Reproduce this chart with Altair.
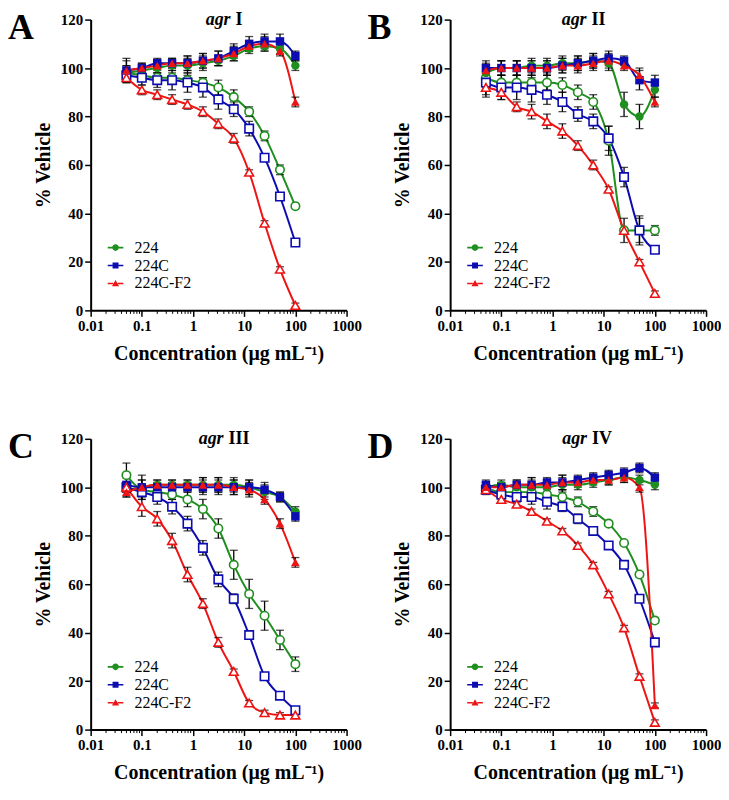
import altair as alt
import pandas as pd

# ---------------- data ----------------
conc = [0.05, 0.1, 0.2, 0.39, 0.78, 1.56, 3.125, 6.25, 12.5, 25, 50, 100]
series_names = ["224", "224C", "224C-F2"]
colors = ["#1f8f1f", "#0c0cb0", "#ee1414"]
shapes = ["circle", "square", "triangle-up"]

# Panel A (agr I)
A_224_f = [98, 99, 100, 101, 101, 102, 103, 105, 108, 109, 108, 101]
A_224_f_err = [3, 2, 2, 2, 3, 3, 2, 2, 2, 2, 2, 2]
A_224C_f = [99, 100, 102, 102, 102, 103, 104, 107, 110, 111, 111, 105]
A_224C_f_err = [5, 2, 2, 2, 3, 3, 3, 3, 3, 3, 3, 2]
A_F2_f = [99, 100, 101, 102, 102, 103, 104, 106, 109, 110, 107, 86]
A_F2_f_err = [4, 2, 2, 2, 3, 3, 3, 3, 2, 3, 2, 2]
A_224_o = [98, 97, 96, 96, 95, 94, 92, 88, 82, 72, 58, 43]
A_224_o_err = [3, 2, 2, 2, 2, 2, 3, 3, 2, 2, 2, 0]
A_224C_o = [97, 96, 95, 95, 94, 92, 87, 83, 75, 63, 47, 28]
A_224C_o_err = [3, 3, 3, 4, 4, 4, 4, 3, 3, 1, 1, 1]
A_F2_o = [96, 91, 89, 87, 85, 82, 77, 71, 57, 36, 17, 2]
A_F2_o_err = [2, 2, 2, 2, 2, 2, 2, 2, 1, 1, 1, 1]

# Panel B (agr II)
B_224_f = [98, 100, 100, 101, 101, 102, 102, 103, 102, 85, 80, 91]
B_224_f_err = [3, 3, 3, 3, 3, 3, 3, 3, 3, 5, 5, 3]
B_224C_f = [100, 100, 100, 100, 100, 101, 102, 103, 104, 103, 95, 94]
B_224C_f_err = [3, 3, 3, 3, 3, 3, 3, 3, 3, 2, 4, 3]
B_F2_f = [99, 100, 100, 100, 100, 101, 101, 102, 103, 101, 97, 86]
B_F2_f_err = [3, 3, 3, 3, 3, 3, 3, 3, 3, 2, 3, 2]
B_224_o = [96, 94, 94, 94, 94, 93, 90, 86, 70, 33, 33, 33]
B_224_o_err = [4, 3, 3, 3, 3, 3, 3, 3, 6, 5, 5, 2]
B_224C_o = [94, 92, 92, 91, 89, 86, 81, 78, 71, 55, 33, 25]
B_224C_o_err = [5, 5, 5, 5, 4, 4, 3, 3, 5, 4, 6, 1]
B_F2_o = [92, 90, 84, 82, 78, 74, 68, 60, 50, 33, 20, 7]
B_F2_o_err = [4, 3, 2, 3, 3, 3, 2, 2, 1, 1, 1, 1]

# Panel C (agr III)
C_224_f = [99, 100, 101, 101, 101, 101, 101, 101, 100, 98, 96, 90]
C_224_f_err = [3, 5, 2, 2, 2, 3, 3, 3, 3, 3, 2, 2]
C_224C_f = [101, 100, 100, 100, 100, 100, 100, 100, 100, 99, 96, 88]
C_224C_f_err = [3, 3, 2, 2, 2, 3, 3, 3, 3, 3, 2, 2]
C_F2_f = [98, 100, 101, 101, 101, 101, 101, 100, 99, 95, 85, 69]
C_F2_f_err = [2, 3, 2, 2, 2, 3, 3, 3, 3, 2, 2, 2]
C_224_o = [105, 99, 98, 97, 95, 91, 83, 68, 56, 47, 37, 27]
C_224_o_err = [5, 2, 2, 2, 3, 4, 4, 6, 6, 6, 4, 3]
C_224C_o = [100, 98, 96, 92, 85, 75, 62, 54, 39, 22, 14, 8]
C_224C_o_err = [2, 3, 3, 3, 3, 3, 3, 2, 1, 1, 1, 1]
C_F2_o = [100, 92, 87, 78, 64, 52, 36, 24, 11, 7, 6, 6]
C_F2_o_err = [2, 4, 3, 3, 3, 2, 2, 1, 1, 1, 1, 1]

# Panel D (agr IV)
D_224_f = [100, 101, 100, 100, 100, 101, 101, 102, 103, 104, 103, 101]
D_224_f_err = [2, 2, 2, 3, 2, 3, 2, 2, 2, 2, 2, 2]
D_224C_f = [101, 100, 101, 101, 102, 102, 103, 104, 105, 106, 108, 104]
D_224C_f_err = [2, 2, 2, 3, 2, 3, 2, 2, 2, 2, 2, 2]
D_F2_f = [100, 100, 101, 101, 101, 102, 102, 103, 103, 104, 100, 10]
D_F2_f_err = [2, 2, 2, 3, 2, 3, 2, 2, 2, 2, 2, 1]
D_224_o = [100, 98, 98, 98, 97, 96, 94, 90, 85, 77, 64, 45]
D_224_o_err = [2, 2, 3, 3, 3, 3, 2, 2, 1, 1, 1, 1]
D_224C_o = [99, 97, 96, 96, 94, 92, 87, 82, 76, 68, 54, 36]
D_224C_o_err = [2, 2, 2, 3, 3, 2, 2, 1, 1, 1, 1, 1]
D_F2_o = [99, 95, 93, 90, 86, 82, 76, 68, 56, 42, 22, 3]
D_F2_o_err = [1, 1, 1, 1, 1, 1, 1, 1, 1, 1, 1, 1]

panels = {
    "A": ("I", [(A_224_f, A_224_f_err, A_224_o, A_224_o_err),
                (A_224C_f, A_224C_f_err, A_224C_o, A_224C_o_err),
                (A_F2_f, A_F2_f_err, A_F2_o, A_F2_o_err)]),
    "B": ("II", [(B_224_f, B_224_f_err, B_224_o, B_224_o_err),
                 (B_224C_f, B_224C_f_err, B_224C_o, B_224C_o_err),
                 (B_F2_f, B_F2_f_err, B_F2_o, B_F2_o_err)]),
    "C": ("III", [(C_224_f, C_224_f_err, C_224_o, C_224_o_err),
                  (C_224C_f, C_224C_f_err, C_224C_o, C_224C_o_err),
                  (C_F2_f, C_F2_f_err, C_F2_o, C_F2_o_err)]),
    "D": ("IV", [(D_224_f, D_224_f_err, D_224_o, D_224_o_err),
                 (D_224C_f, D_224C_f_err, D_224C_o, D_224C_o_err),
                 (D_F2_f, D_F2_f_err, D_F2_o, D_F2_o_err)]),
}

x_ticks = [0.01, 0.1, 1, 10, 100, 1000]
y_ticks = [0, 20, 40, 60, 80, 100, 120]
minor_ticks = [m * 10.0 ** e for e in range(-2, 3) for m in range(2, 10)]

# ---------------- styling ----------------
SERIF = "Liberation Serif"
W, H = 257, 292
numeral_width = {"I": 7, "II": 14, "III": 21, "IV": 13}

# legend symbols: short line with the marker in the middle
legend_paths = [
    "M-2.1,-0.22H-0.86V0.22H-2.1Z M0.86,-0.22H2.1V0.22H0.86Z "
    "M0.9,0A0.9,0.9,0,1,1,-0.9,0A0.9,0.9,0,1,1,0.9,0Z",
    "M-2.1,-0.22H-0.8V0.22H-2.1Z M0.8,-0.22H2.1V0.22H0.8Z "
    "M-0.8,-0.8H0.8V0.8H-0.8Z",
    "M-2.1,-0.22H-0.6V0.22H-2.1Z M0.6,-0.22H2.1V0.22H0.6Z "
    "M0,-0.95L0.95,0.75H-0.95Z",
]

xscale = alt.Scale(type="log", domain=[0.01, 1000], nice=False)
yscale = alt.Scale(domain=[0, 120], nice=False, zero=True)
axis_style = dict(labelFont=SERIF, labelFontSize=15, labelFontWeight="bold",
                  labelColor="black", titleFont=SERIF, titleFontSize=20,
                  titleFontWeight="bold", titleColor="black", labelOverlap=False)
xaxis = alt.Axis(values=x_ticks, format="~g", title="Concentration (μg mL⁻¹)",
                 labelFlush=False, titlePadding=10, **axis_style)
yaxis = alt.Axis(values=y_ticks, format="d", title="% Vehicle", titlePadding=7,
                 **axis_style)


def build_df(groups):
    rows = []
    for name, (f, fe, o, oe) in zip(series_names, groups):
        for c, v, e in zip(conc, f, fe):
            rows.append(dict(conc=c, value=v, lo=v - e, hi=v + e, series=name, kind="filled"))
        for c, v, e in zip(conc, o, oe):
            rows.append(dict(conc=c, value=v, lo=v - e, hi=v + e, series=name, kind="open"))
    return pd.DataFrame(rows)


def text_mark(txt, x, y, size, style="normal", align="left"):
    return alt.Chart(pd.DataFrame({"t": [txt]})).mark_text(
        align=align, baseline="alphabetic", font=SERIF, fontSize=size,
        fontWeight="bold", fontStyle=style, color="black"
    ).encode(x=alt.value(x), y=alt.value(y), text="t:N")


def panel(letter):
    numeral, groups = panels[letter]
    df = build_df(groups)
    base = alt.Chart(df)
    X = alt.X("conc:Q", scale=xscale, axis=xaxis)
    Y = alt.Y("value:Q", scale=yscale, axis=yaxis)
    YLO = alt.Y("lo:Q", scale=yscale, axis=yaxis)
    YHI = alt.Y("hi:Q", scale=yscale, axis=yaxis)

    minor = alt.Chart(pd.DataFrame({"conc": minor_ticks})).mark_rule(
        color="black", strokeWidth=1
    ).encode(x=X, y=alt.value(H), y2=alt.value(H + 3.5))

    layers = [minor]
    for s, c in zip(series_names, colors):
        layers.append(
            base.transform_filter(alt.datum.series == s)
            .mark_line(interpolate="monotone", strokeWidth=2, color=c)
            .encode(x=X, y=Y, detail="kind:N"))

    layers.append(base.mark_rule(color="black", strokeWidth=1.3).encode(
        x=X, y=YLO, y2="hi:Q"))
    layers.append(base.mark_tick(orient="horizontal", color="black", size=8,
                                 thickness=1.3).encode(x=X, y=YLO))
    layers.append(base.mark_tick(orient="horizontal", color="black", size=8,
                                 thickness=1.3).encode(x=X, y=YHI))

    for s, shp, c in zip(series_names, shapes, colors):
        sz = 72 if shp != "triangle-up" else 78
        layers.append(
            base.transform_filter((alt.datum.series == s) & (alt.datum.kind == "open"))
            .mark_point(shape=shp, filled=False, fill="white", stroke=c, opacity=1,
                        size=sz, strokeWidth=1.6)
            .encode(x=X, y=Y))
        layers.append(
            base.transform_filter((alt.datum.series == s) & (alt.datum.kind == "filled"))
            .mark_point(shape=shp, filled=True, color=c, opacity=1, size=sz)
            .encode(x=X, y=Y))

    leg_props = dict(orient="none", legendX=17, legendY=221, title=None, padding=0,
                     labelFont=SERIF, labelFontSize=16, labelFontWeight="normal",
                     labelColor="black", symbolSize=56, symbolStrokeWidth=0,
                     labelOffset=11, rowPadding=2)
    legend_layer = alt.Chart(pd.DataFrame({"series": series_names})).transform_filter(
        "false").mark_point(filled=True, opacity=1).encode(
        color=alt.Color("series:N", scale=alt.Scale(domain=series_names, range=colors),
                        legend=alt.Legend(**leg_props)),
        shape=alt.Shape("series:N", scale=alt.Scale(domain=series_names, range=legend_paths),
                        legend=alt.Legend(**leg_props)),
    )
    layers.append(legend_layer)

    # panel letter and title
    nw = numeral_width[numeral]
    gap = 5
    agr_w = 25
    centre = W / 2 + 5.5
    left = centre - (agr_w + gap + nw) / 2
    layers.append(text_mark(letter, -83, 19, 36))
    layers.append(text_mark("agr", left + agr_w, 5, 18, style="italic", align="right"))
    layers.append(text_mark(numeral, left + agr_w + gap, 5, 18, align="left"))

    return alt.layer(*layers).properties(width=W, height=H)


row1 = alt.hconcat(panel("A"), panel("B"), spacing=6).resolve_scale(
    color="independent", shape="independent").resolve_legend(
    color="independent", shape="independent")
row2 = alt.hconcat(panel("C"), panel("D"), spacing=6).resolve_scale(
    color="independent", shape="independent").resolve_legend(
    color="independent", shape="independent")

chart = alt.vconcat(row1, row2, spacing=66).resolve_scale(
    color="independent", shape="independent").resolve_legend(
    color="independent", shape="independent").properties(padding=0).configure_view(
    stroke=None).configure_axis(
    domainColor="black", domainWidth=2, tickColor="black", tickWidth=1.5, tickSize=6,
    labelPadding=2, grid=False)

chart.save("out.html", embed_options={"renderer": "svg", "actions": False})
